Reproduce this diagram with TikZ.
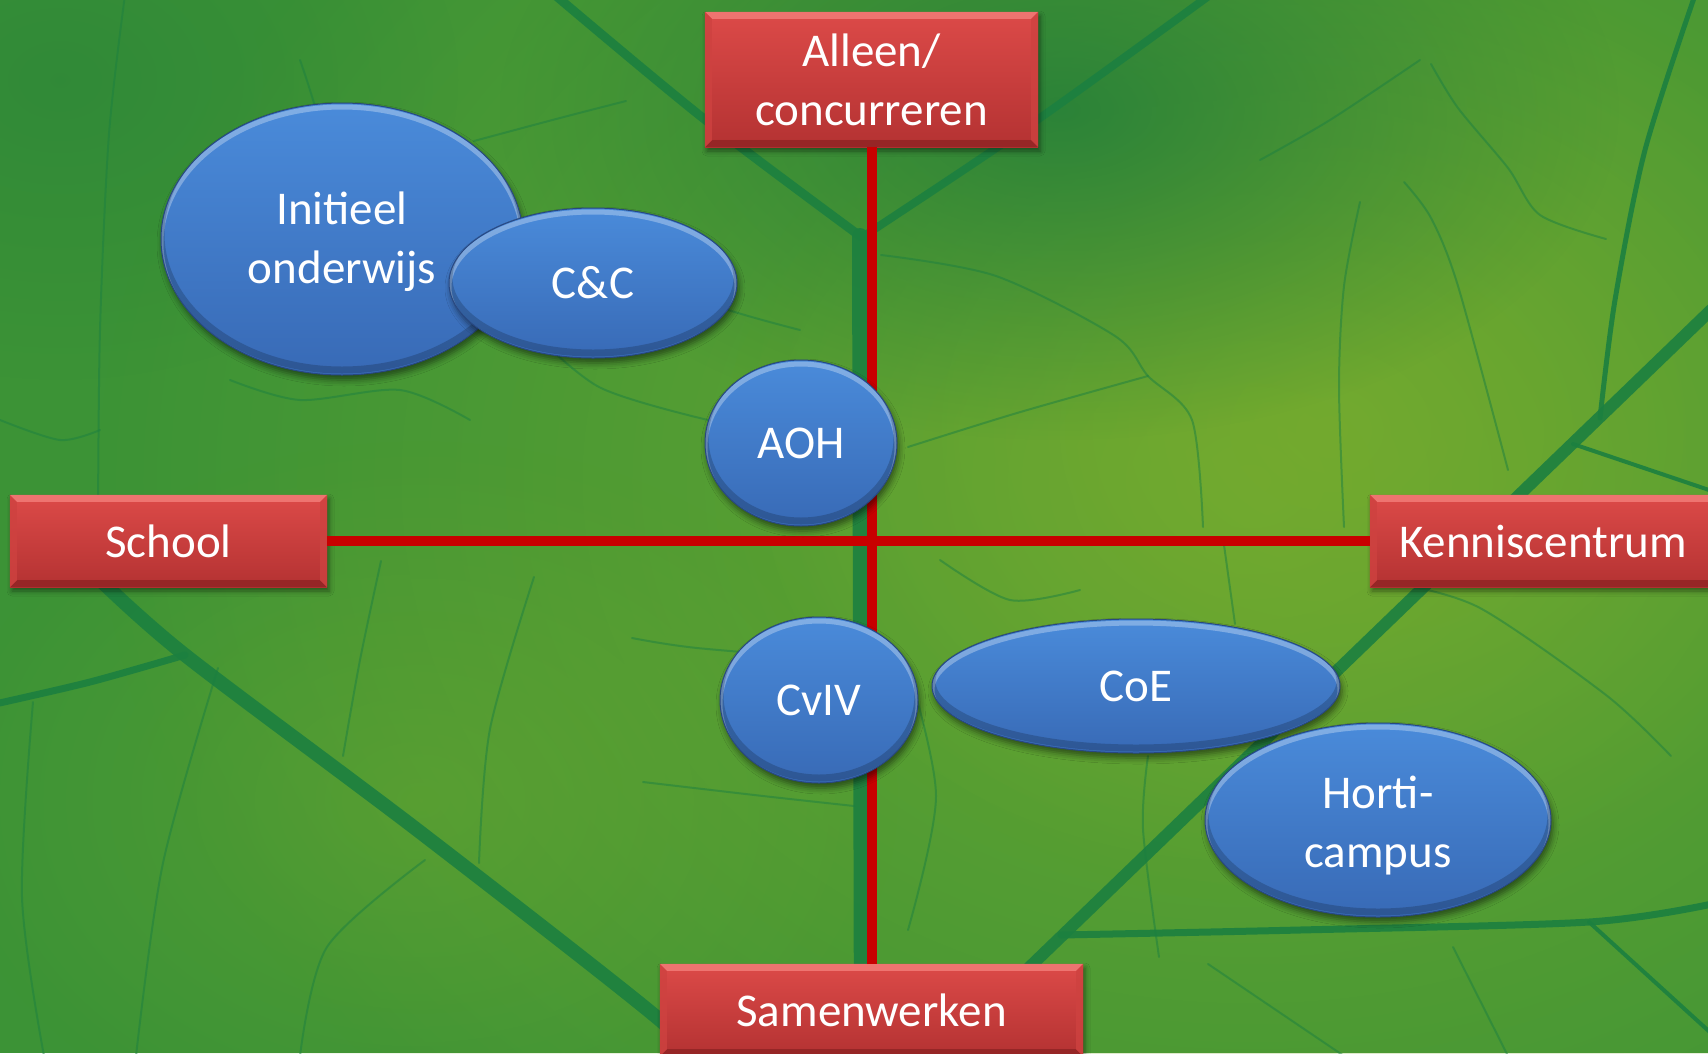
\documentclass[tikz,border=0pt]{standalone}
\usepackage{fontspec}
\setmainfont{Carlito}
\usetikzlibrary{shapes.geometric,shadows.blur,fadings}

\definecolor{leafbase}{RGB}{60,147,54}
\definecolor{leafglow}{RGB}{124,174,46}
\definecolor{leafdark}{RGB}{32,124,58}
\definecolor{veincol}{RGB}{28,128,64}
\definecolor{axisred}{RGB}{200,0,0}
\definecolor{boxtop}{RGB}{220,74,72}
\definecolor{boxbot}{RGB}{180,50,50}
\definecolor{bevlight}{RGB}{238,116,112}
\definecolor{bevside}{RGB}{206,66,64}
\definecolor{bevdark}{RGB}{150,38,38}
\definecolor{blobtop}{RGB}{74,139,218}
\definecolor{blobbot}{RGB}{56,106,182}
\definecolor{blobline}{RGB}{40,72,130}

% soft spot: opaque in the middle, clear at the outline
\tikzfading[name=softspot, inner color=transparent!0, outer color=transparent!100]

\tikzset{
  bigtext/.style={font=\fontsize{47}{59}\selectfont, text=white, align=center},
  redbox/.style={rectangle, inner sep=0pt, bigtext, top color=boxtop, bottom color=boxbot,
    blur shadow={shadow xshift=2pt, shadow yshift=-4pt, shadow blur radius=5pt, shadow opacity=45}},
  blob/.style={ellipse, inner sep=0pt, bigtext, top color=blobtop, bottom color=blobbot,
    blur shadow={shadow xshift=2pt, shadow yshift=-5pt, shadow blur radius=6pt, shadow opacity=50}},
  veinline/.style={draw=veincol, line cap=round, line join=round, opacity=.9},
  fineline/.style={draw=veincol, line cap=round, line join=round, line width=2pt, opacity=.5},
  axisline/.style={draw=axisred, line width=10pt},
}

% bevelled edges of a red label box, then its text
\newcommand\boxbevel[2]{%
  \fill[bevlight] (#1.north west) -- (#1.north east) -- ([xshift=-7pt,yshift=-7pt]#1.north east) -- ([xshift=7pt,yshift=-7pt]#1.north west) -- cycle;
  \fill[bevdark] (#1.south west) -- (#1.south east) -- ([xshift=-7pt,yshift=7pt]#1.south east) -- ([xshift=7pt,yshift=7pt]#1.south west) -- cycle;
  \fill[bevside,opacity=.8] (#1.north west) -- ([xshift=7pt,yshift=-7pt]#1.north west) -- ([xshift=7pt,yshift=7pt]#1.south west) -- (#1.south west) -- cycle;
  \fill[bevside,opacity=.8] (#1.north east) -- ([xshift=-7pt,yshift=-7pt]#1.north east) -- ([xshift=-7pt,yshift=7pt]#1.south east) -- (#1.south east) -- cycle;
  \node[bigtext] at (#1.center) {#2};
}

% rounded, bevelled ellipse: name, x, y, x radius, y radius, text, text drop
\newcommand\blob[7]{%
  \node[blob, minimum width={2*#4pt}, minimum height={2*#5pt}] (#1) at (#2,#3) {};
  \begin{scope}
    \clip (#1.center) ellipse [x radius=#4pt, y radius=#5pt];
    \draw[white, opacity=.30, line width=5pt] ([yshift=-4pt]#1.center) ellipse [x radius=#4pt, y radius=#5pt];
    \draw[black, opacity=.18, line width=7pt] ([yshift=5pt]#1.center) ellipse [x radius=#4pt, y radius=#5pt];
  \end{scope}
  \draw[blobline, line width=1pt] (#1.center) ellipse [x radius=#4pt, y radius=#5pt];
  \node[bigtext] at ([yshift=-#7pt]#1.center) {#6};
}

\begin{document}
\begin{tikzpicture}[x=1pt,y=-1pt]
\useasboundingbox (0,0) rectangle (1708,1053);

% ---- leaf background ----
\begin{scope}
  \clip (0,0) rectangle (1708,1053);
  \fill[leafbase] (0,0) rectangle (1708,1053);
  \fill[leafglow, path fading=softspot, opacity=.7] (1250,480) ellipse [x radius=1150pt, y radius=900pt];
  \fill[leafglow, path fading=softspot, opacity=.6] (1330,430) ellipse [x radius=600pt, y radius=480pt];
  \fill[leafglow, path fading=softspot, opacity=.35] (420,800) ellipse [x radius=480pt, y radius=360pt];
  \fill[leafdark, path fading=softspot, opacity=.8] (1060,110) ellipse [x radius=560pt, y radius=330pt];
  \fill[leafdark, path fading=softspot, opacity=.4] (60,80) ellipse [x radius=400pt, y radius=300pt];
  % main veins
  \draw[veinline, line width=16pt] (860,236) -- (862,1060);
  \draw[veinline, line width=9pt] plot[smooth] coordinates {(555,-5) (703,118) (860,236)};
  \draw[veinline, line width=8pt] plot[smooth] coordinates {(864,236) (1030,125) (1210,-5)};
  \draw[veinline, line width=14pt] plot[smooth] coordinates {(95,575) (185,655) (420,832) (660,1020) (690,1060)};
  \draw[veinline, line width=7pt] plot[smooth] coordinates {(185,655) (90,682) (-5,704)};
  \draw[veinline, line width=12pt] (985,1010) -- (1712,309);
  \draw[veinline, line width=7pt] plot[smooth] coordinates {(1061,935) (1300,930) (1589,922) (1712,904)};
  \draw[veinline, line width=5pt] plot[smooth] coordinates {(1600,418) (1615,300) (1645,150) (1695,-5)};
  \draw[veinline, line width=4pt] (1573,444) -- (1712,491);
  \draw[veinline, line width=4pt] (1589,922) -- (1712,1034);
  % finer veins
  \draw[fineline] plot[smooth] coordinates {(125,-5) (109,134) (100,330) (98,524)};
  \draw[fineline] plot[smooth] coordinates {(523,323) (599,387) (708,420)};
  \draw[fineline] plot[smooth] coordinates {(474,141) (560,118) (626,101)};
  \draw[fineline] plot[smooth] coordinates {(881,255) (996,276) (1115,336) (1148,376) (1192,420) (1203,527)};
  \draw[fineline] plot[smooth] coordinates {(908,447) (1017,413) (1148,376)};
  \draw[fineline] plot[smooth] coordinates {(1360,202) (1344,286) (1339,387) (1344,527)};
  \draw[fineline] plot[smooth] coordinates {(1404,182) (1431,218) (1458,286) (1508,470)};
  \draw[fineline] plot[smooth] coordinates {(1431,64) (1458,108) (1508,168) (1540,215) (1606,239)};
  \draw[fineline] plot[smooth] coordinates {(381,561) (360,660) (343,756)};
  \draw[fineline] plot[smooth] coordinates {(534,577) (490,729) (479,863)};
  \draw[fineline] plot[smooth] coordinates {(632,638) (697,648) (854,661)};
  \draw[fineline] plot[smooth] coordinates {(643,782) (763,796) (854,806)};
  \draw[fineline] plot[smooth] coordinates {(218,668) (163,863) (136,1056)};
  \draw[fineline] plot[smooth] coordinates {(33,702) (22,897) (44,1056)};
  \draw[fineline] plot[smooth] coordinates {(425,860) (327,947) (300,1056)};
  \draw[fineline] plot[smooth] coordinates {(1399,584) (1480,608) (1606,695) (1671,756)};
  \draw[fineline] plot[smooth] coordinates {(1224,545) (1235,624)};
  \draw[fineline] plot[smooth] coordinates {(1148,756) (1143,829) (1159,957)};
  \draw[fineline] plot[smooth] coordinates {(908,668) (936,796) (908,930)};
  \draw[fineline] plot[smooth] coordinates {(1208,964) (1344,1056)};
  \draw[fineline] plot[smooth] coordinates {(1453,947) (1508,1056)};
  \draw[fineline] plot[smooth] coordinates {(300,60) (330,180) (300,320)};
  \draw[fineline] plot[smooth] coordinates {(620,250) (700,300) (800,330)};
  \draw[fineline] plot[smooth] coordinates {(0,420) (60,440) (100,430)};
  \draw[fineline] plot[smooth] coordinates {(230,380) (300,400) (400,390) (470,420)};
  \draw[fineline] plot[smooth] coordinates {(940,560) (1010,600) (1080,590)};
  \draw[fineline] plot[smooth] coordinates {(1260,160) (1330,120) (1420,60)};
\end{scope}

% ---- axis labels ----
\node[redbox, minimum width=333pt, minimum height=135pt] (top) at (871.5,79.5) {};
\boxbevel{top}{Alleen/\\concurreren}
\node[redbox, minimum width=317pt, minimum height=92pt] (school) at (168.5,541) {};
\boxbevel{school}{School}
\node[redbox, minimum width=346pt, minimum height=92pt] (kc) at (1543,541) {};
\boxbevel{kc}{Kenniscentrum}
\node[redbox, minimum width=423pt, minimum height=92pt] (samen) at (871.5,1010) {};
\boxbevel{samen}{Samenwerken}

% ---- axes ----
\draw[axisline] (top.south) -- (samen.north);
\draw[axisline] (school.east) -- (kc.west);

% ---- positioned ellipses ----
\blob{init}{342}{239}{181}{136}{Initieel\\onderwijs}{3}
\blob{cc}{593}{283}{144}{75}{C\&C}{0}
\blob{aoh}{801}{443}{96}{83}{AOH}{0}
\blob{cviv}{819}{700}{99}{83}{CvIV}{0}
\blob{coe}{1136}{686}{204}{67}{CoE}{0}
\blob{horti}{1378}{820}{173}{97}{Horti-\\campus}{6}
\end{tikzpicture}
\end{document}
